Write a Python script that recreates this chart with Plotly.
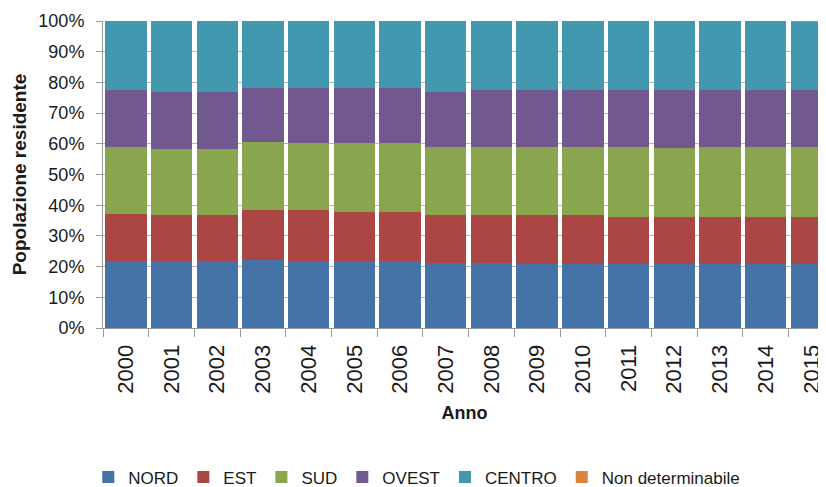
import plotly.graph_objects as go

# quote percentuali della popolazione residente per zona
anni = [str(a) for a in range(2000, 2016)]
nord = [21.7, 21.7, 21.7, 22.0, 21.7, 21.7, 21.7, 21.2, 21.2, 20.9, 20.9, 20.9, 20.9, 20.9, 20.9, 20.9]
est = [15.5, 15.0, 15.0, 16.3, 16.6, 16.1, 16.1, 15.5, 15.5, 15.8, 15.8, 15.4, 15.4, 15.4, 15.4, 15.4]
sud = [21.6, 21.7, 21.7, 22.2, 21.9, 22.4, 22.4, 22.1, 22.1, 22.1, 22.1, 22.5, 22.3, 22.8, 22.8, 22.8]
ovest = [18.6, 18.6, 18.6, 17.8, 18.0, 18.0, 18.0, 18.2, 18.6, 18.6, 18.6, 18.6, 18.8, 18.3, 18.3, 18.3]
centro = [22.6, 23.0, 23.0, 21.7, 21.8, 21.8, 21.8, 23.0, 22.6, 22.6, 22.6, 22.6, 22.6, 22.6, 22.6, 22.3]
non_det = [0, 0, 0, 0, 0, 0, 0, 0, 0, 0, 0, 0, 0, 0, 0, 0.3]

serie = [
    ("NORD", nord, "#4572A7"),
    ("EST", est, "#AA4643"),
    ("SUD", sud, "#89A54E"),
    ("OVEST", ovest, "#71588F"),
    ("CENTRO", centro, "#4198AF"),
    ("Non determinabile", non_det, "#DB843D"),
]

fig = go.Figure()
for nome, valori, colore in serie:
    fig.add_trace(go.Bar(x=anni, y=valori, name=nome, marker_color=colore, marker_line_width=0))

# la pagina html aggiunge 8px di margine al body: figura ridotta di conseguenza
fig.update_layout(
    barmode="stack",
    bargap=0.095,
    width=818,
    height=479,
    margin={"l": 95, "r": 0, "t": 13, "b": 159},
    plot_bgcolor="white",
    paper_bgcolor="white",
    font={"family": "Liberation Sans, Arial, sans-serif", "color": "#1a1a1a"},
    legend={
        "orientation": "h",
        "traceorder": "normal",
        "x": 0.434,
        "xanchor": "center",
        "yref": "container",
        "y": 0.02,
        "yanchor": "middle",
        "font": {"family": "Liberation Sans Narrow, Arial Narrow, Liberation Sans", "size": 17},
        "itemwidth": 30,
    },
)
fig.update_xaxes(
    type="category",
    automargin=False,
    range=[-0.5, 15.32],
    tickangle=-90,
    tickfont={"size": 22},
    ticks="outside",
    tickson="boundaries",
    ticklen=8,
    tickcolor="#9a9a9a",
    ticklabelstandoff=7,
    showline=True,
    linecolor="#9a9a9a",
    title={"text": "<b>Anno</b>", "font": {"size": 18}, "standoff": 13},
)
fig.update_yaxes(
    automargin=False,
    range=[0, 100],
    dtick=10,
    ticksuffix="%",
    tickfont={"size": 18},
    ticks="outside",
    ticklen=6,
    tickcolor="#9a9a9a",
    ticklabelstandoff=8,
    showline=True,
    linecolor="#9a9a9a",
    showgrid=True,
    gridcolor="#b5b5b5",
    zeroline=False,
    title={"text": "<b>Popolazione residente</b>", "font": {"size": 19}, "standoff": 6},
)

fig.write_html("out.html")
